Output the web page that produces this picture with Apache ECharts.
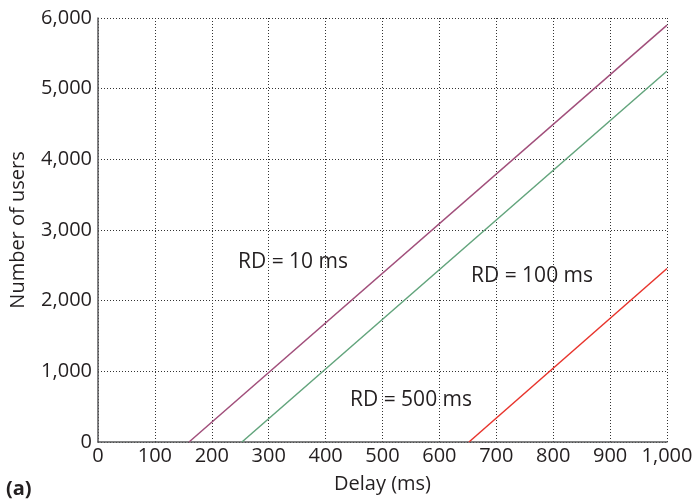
<!DOCTYPE html>
<html>
<head>
<meta charset="utf-8">
<script src="https://cdn.jsdelivr.net/npm/echarts@6/dist/echarts.min.js"></script>
<style>
  html, body { margin: 0; padding: 0; background: #fff; }
  #chart { width: 698px; height: 499px; }
</style>
</head>
<body>
<div id="chart"></div>
<script>
// delay (ms) -> number of users, one straight segment per RD value
var rd10 = [[160, 0], [1000, 5900]];
var rd100 = [[253, 0], [1000, 5250]];
var rd500 = [[652, 0], [1000, 2455]];
var seriesNames = ['RD = 10 ms', 'RD = 100 ms', 'RD = 500 ms'];
var colors = ['#a14f7b', '#62a47c', '#e8342c'];

var font = '"Open Sans", "Noto Sans", sans-serif';
var txt = '#231f20';

function fmt(v) {
    return v.toLocaleString('en-US');
}

var chart = echarts.init(document.getElementById('chart'));

chart.setOption({
    animation: false,
    grid: { left: 98, right: 31, top: 18, bottom: 57, outerBoundsMode: 'none', containLabel: false },
    xAxis: {
        type: 'value', min: 0, max: 1000, interval: 100,
        name: 'Delay (ms)', nameLocation: 'middle', nameGap: 32,
        nameTextStyle: { fontFamily: font, fontSize: 20, color: txt },
        axisLine: { lineStyle: { color: '#58595b', width: 1.5 } },
        axisTick: { show: false },
        axisLabel: { fontFamily: font, fontSize: 20, color: txt, margin: 4, formatter: fmt },
        splitLine: { lineStyle: { color: '#333', type: [1, 2], width: 1 } }
    },
    yAxis: {
        type: 'value', min: 0, max: 6000, interval: 1000,
        name: 'Number of users', nameLocation: 'middle', nameGap: 70,
        nameTextStyle: { fontFamily: font, fontSize: 20, color: txt },
        axisLine: { show: true, lineStyle: { color: '#58595b', width: 1.5 } },
        axisTick: { show: false },
        axisLabel: { fontFamily: font, fontSize: 20, color: txt, margin: 6, formatter: fmt },
        splitLine: { lineStyle: { color: '#333', type: [1, 2], width: 1 } }
    },
    series: [rd10, rd100, rd500].map(function (d, i) {
        return {
            name: seriesNames[i], type: 'line', data: d,
            symbol: 'none', lineStyle: { color: colors[i], width: 1.5 }
        };
    }),
    graphic: [
        { type: 'text', x: 238, y: 262, style: { text: seriesNames[0], font: '21px ' + font, fill: txt, verticalAlign: 'middle' } },
        { type: 'text', x: 471, y: 276, style: { text: seriesNames[1], font: '21px ' + font, fill: txt, verticalAlign: 'middle' } },
        { type: 'text', x: 350, y: 400, style: { text: seriesNames[2], font: '21px ' + font, fill: txt, verticalAlign: 'middle' } },
        { type: 'text', x: 6, y: 489, style: { text: '(a)', font: 'bold 20px ' + font, fill: txt, verticalAlign: 'middle' } }
    ]
});
</script>
</body>
</html>
